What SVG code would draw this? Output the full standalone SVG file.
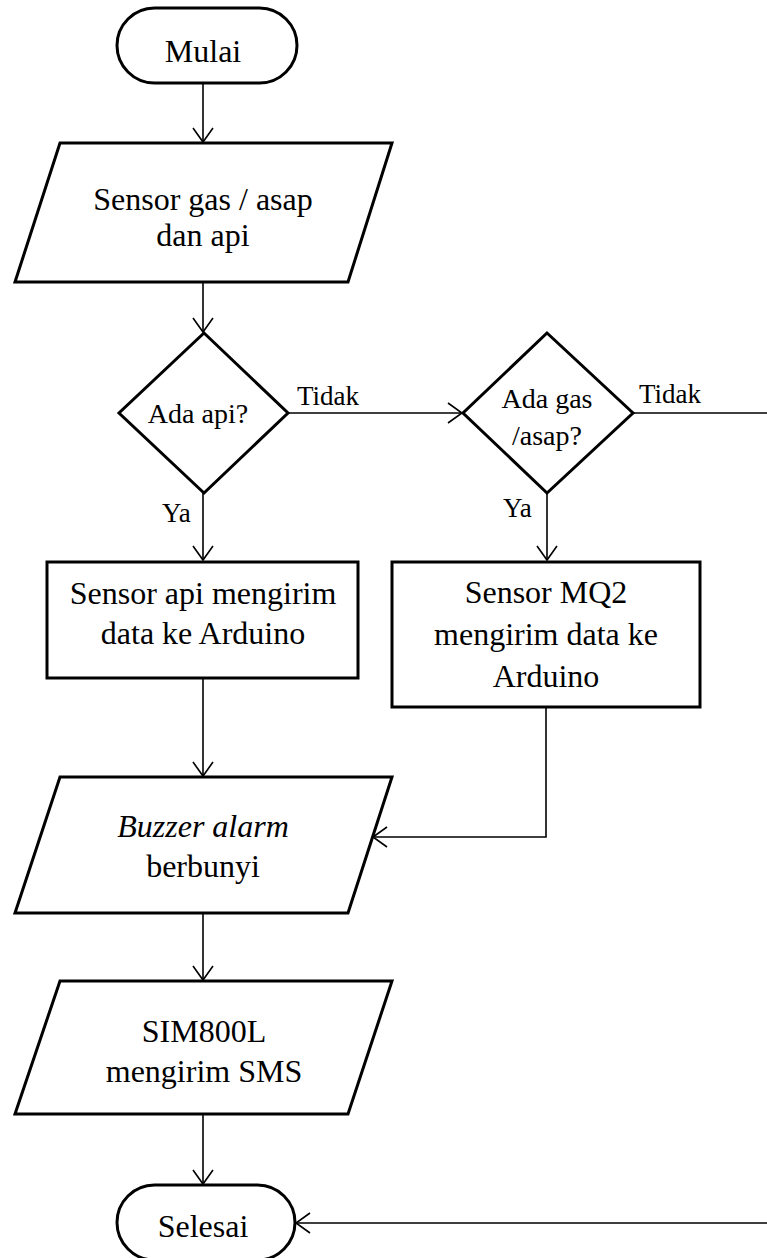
<svg xmlns="http://www.w3.org/2000/svg" width="767" height="1258" viewBox="0 0 767 1258">
<style>
.shape{fill:#fff;stroke:#000;stroke-width:3;stroke-linejoin:miter}
.conn{fill:none;stroke:#000;stroke-width:1.6}
.t{font-family:"Liberation Serif","Times New Roman",serif;font-size:32px;fill:#000;text-anchor:middle}
.d{font-family:"Liberation Serif","Times New Roman",serif;font-size:28px;fill:#000;text-anchor:middle}
.l{font-family:"Liberation Serif","Times New Roman",serif;font-size:27px;fill:#000}
</style>
<defs>
<marker id="arr" markerUnits="userSpaceOnUse" markerWidth="30" markerHeight="30" refX="15" refY="11" orient="auto" viewBox="0 0 30 22">
<path d="M1,1 L15,11 L1,21" fill="none" stroke="#000" stroke-width="1.6"/>
</marker>
</defs>
<rect width="767" height="1258" fill="#fff"/>
<g id="connectors">
<path class="conn" d="M203,83 V142" marker-end="url(#arr)"/>
<path class="conn" d="M203,282 V332" marker-end="url(#arr)"/>
<path class="conn" d="M288,413 H462" marker-end="url(#arr)"/>
<path class="conn" d="M203,493 V560" marker-end="url(#arr)"/>
<path class="conn" d="M547,493 V560" marker-end="url(#arr)"/>
<path class="conn" d="M203,678 V776" marker-end="url(#arr)"/>
<path class="conn" d="M546,707 V837 H373" marker-end="url(#arr)"/>
<path class="conn" d="M203,913 V980" marker-end="url(#arr)"/>
<path class="conn" d="M203,1114 V1184" marker-end="url(#arr)"/>
<path class="conn" d="M633,413 H770 V1223 H296" marker-end="url(#arr)"/>
<text class="l" x="297" y="405">Tidak</text>
<text class="l" x="639" y="403">Tidak</text>
<text class="l" x="162" y="522">Ya</text>
<text class="l" x="503" y="517">Ya</text>
</g>
<g id="mulai">
<rect class="shape" x="117" y="8" width="180" height="75" rx="37.5"/>
<text class="t" x="203" y="62">Mulai</text>
</g>
<g id="sensor-input">
<polygon class="shape" points="60,143 392,143 348,282 15,282"/>
<text class="t" x="203" y="210">Sensor gas / asap</text>
<text class="t" x="203" y="246">dan api</text>
</g>
<g id="ada-api">
<polygon class="shape" points="204,333 288,413 204,493 119,413"/>
<text class="d" x="198" y="423">Ada api?</text>
</g>
<g id="ada-gas">
<polygon class="shape" points="547,333 633,413 547,493 463,413"/>
<text class="d" x="547" y="408">Ada gas</text>
<text class="d" x="547" y="445">/asap?</text>
</g>
<g id="sensor-api">
<rect class="shape" x="47" y="562" width="311" height="116"/>
<text class="t" x="203" y="604">Sensor api mengirim</text>
<text class="t" x="203" y="644">data ke Arduino</text>
</g>
<g id="sensor-mq2">
<rect class="shape" x="392" y="562" width="308" height="145"/>
<text class="t" x="546" y="603">Sensor MQ2</text>
<text class="t" x="546" y="645">mengirim data ke</text>
<text class="t" x="546" y="687">Arduino</text>
</g>
<g id="buzzer">
<polygon class="shape" points="60,777 392,777 348,913 15,913"/>
<text class="t" x="203" y="837"><tspan font-style="italic">Buzzer alarm</tspan></text>
<text class="t" x="203" y="877">berbunyi</text>
</g>
<g id="sim800l">
<polygon class="shape" points="60,981 392,981 348,1114 15,1114"/>
<text class="t" x="204" y="1042">SIM800L</text>
<text class="t" x="204" y="1082">mengirim SMS</text>
</g>
<g id="selesai">
<rect class="shape" x="117" y="1185" width="178" height="75" rx="37.5"/>
<text class="t" x="203" y="1237">Selesai</text>
</g>
</svg>
